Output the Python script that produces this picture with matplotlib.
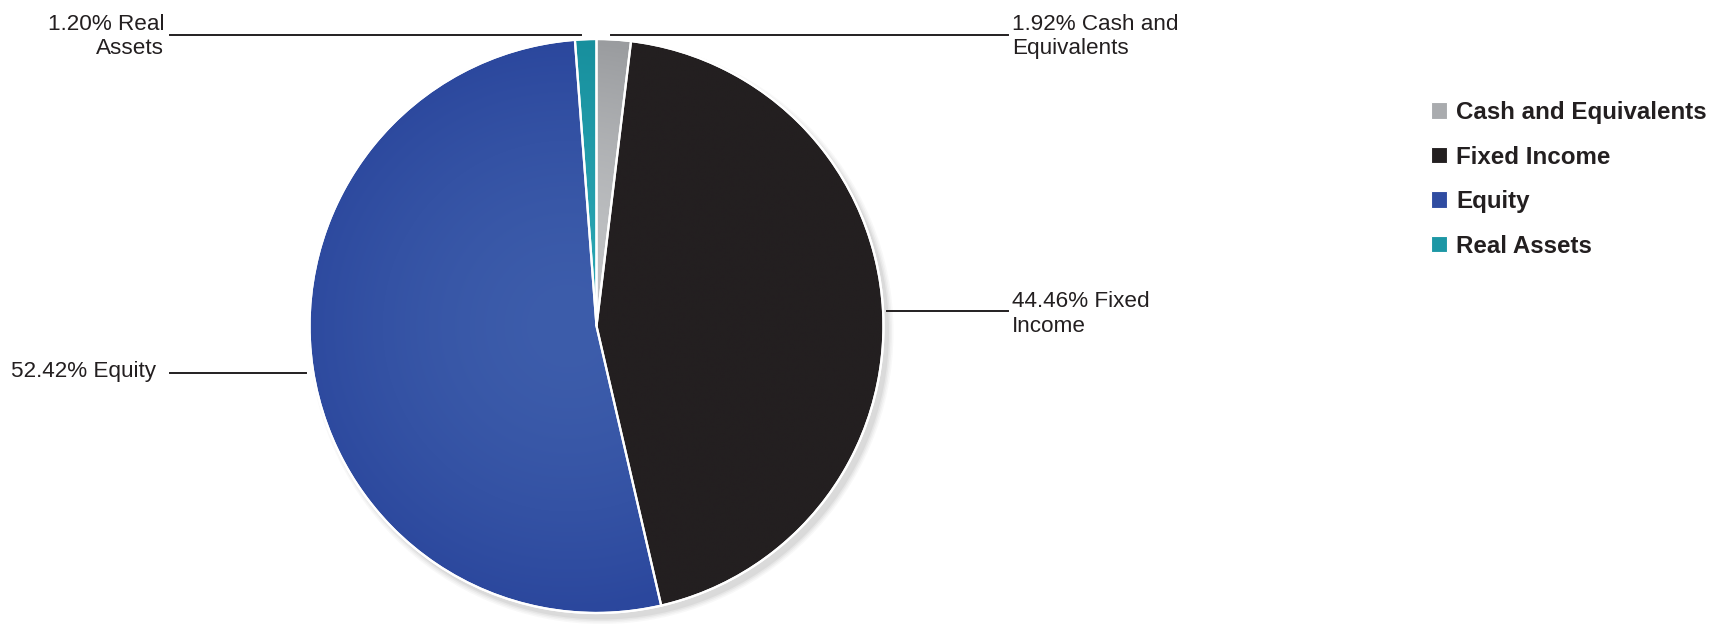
import numpy as np
import matplotlib
matplotlib.use("Agg")
import matplotlib.pyplot as plt
from matplotlib.patches import Patch, Circle
from matplotlib.colors import to_rgb

plt.rcParams['font.family'] = ['Liberation Sans', 'DejaVu Sans']

categories = ["Cash and Equivalents", "Fixed Income", "Equity", "Real Assets"]
values = [1.92, 44.46, 52.42, 1.20]
label_names = ["Cash and\nEquivalents", "Fixed\nIncome", "Equity", "Real\nAssets"]
colors = ["#a9abae", "#231f20", "#2f4ca1", "#1c97a5"]
grad_inner = ["#c4c6c8", "#231f20", "#3d5dab", "#2aa6b3"]
grad_outer = ["#9a9c9f", "#231f20", "#2b479d", "#178f9d"]

W, H = 1722, 629
fig = plt.figure(figsize=(W / 100, H / 100), dpi=100)
ax = fig.add_axes([0, 0, 1, 1])
ax.set_xlim(0, W)
ax.set_ylim(0, H)
ax.set_aspect('equal')
ax.axis('off')

cx, cy, r = 596.5, H - 326, 287

# soft shadow
for k, a in enumerate([0.05, 0.06, 0.08, 0.10]):
    ax.add_patch(Circle((cx + 5, cy - 6), r + 5 - k * 1.5, color='#777777',
                        alpha=a, lw=0, zorder=0))

wedges, _ = ax.pie(values, colors=colors, startangle=90, counterclock=False,
                   center=(cx, cy), radius=r, frame=True,
                   wedgeprops=dict(edgecolor='white', linewidth=1.6))

# gradients clipped to wedges
n = 300
xs = np.linspace(-1, 1, n)
X, Y = np.meshgrid(xs, xs)
D = np.clip(np.sqrt((X + 0.1) ** 2 + Y ** 2), 0, 1)[..., None]
for w, ci, co in zip(wedges, grad_inner, grad_outer):
    c1 = np.array(to_rgb(ci))
    c2 = np.array(to_rgb(co))
    img = c1 * (1 - D ** 1.6) + c2 * (D ** 1.6)
    im = ax.imshow(img, extent=(cx - r, cx + r, cy - r, cy + r), origin='lower',
                   zorder=1, interpolation='bilinear')
    im.set_clip_path(w)
    w.set_facecolor('none')
    w.set_zorder(2)

ax.add_patch(Circle((cx, cy), r, fill=False, edgecolor='white', lw=1.6, zorder=3))

ax.set_xlim(0, W)
ax.set_ylim(0, H)
ax.axis('off')

line_kw = dict(color='#231f20', lw=1.4, zorder=4)
txt_kw = dict(fontsize=16.2, color='#231f20', linespacing=1.2, va='center')

def yy(p):
    return H - p

# Real Assets (top-left)
ax.plot([170, 581], [yy(35), yy(35)], **line_kw)
ax.text(164, yy(36.5), f"{values[3]:.2f}% {label_names[3]}", ha='right', **txt_kw)
# Cash (top-right)
ax.plot([611, 1008], [yy(35), yy(35)], **line_kw)
ax.text(1012, yy(36.5), f"{values[0]:.2f}% {label_names[0]}", ha='left', **txt_kw)
# Fixed Income (right)
ax.plot([887, 1008], [yy(311), yy(311)], **line_kw)
ax.text(1012, yy(314), f"{values[1]:.2f}% {label_names[1]}", ha='left', **txt_kw)
# Equity (left)
ax.plot([170, 306], [yy(373), yy(373)], **line_kw)
ax.text(156, yy(372), f"{values[2]:.2f}% {label_names[2]}", ha='right', **txt_kw)

handles = [Patch(facecolor=c, edgecolor='white', lw=0.8) for c in colors]
leg = ax.legend(handles, categories, loc='upper left',
                bbox_to_anchor=(1431 / W, 1 - 101 / H), bbox_transform=fig.transFigure,
                frameon=False, prop=dict(weight='bold', size=17.4),
                handlelength=0.66, handleheight=0.66, handletextpad=0.38,
                labelspacing=0.89, borderpad=0, borderaxespad=0)
for t in leg.get_texts():
    t.set_color('#231f20')

fig.savefig('out.png', dpi=100)
